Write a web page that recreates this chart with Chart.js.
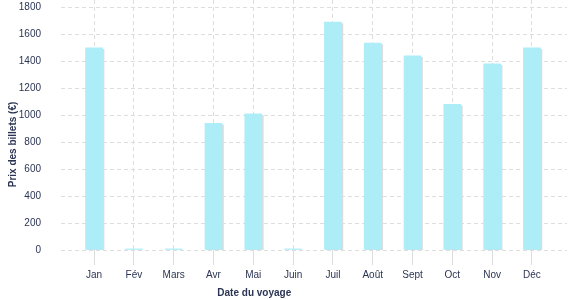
<!DOCTYPE html>
<html>
<head>
<meta charset="utf-8">
<script src="https://cdn.jsdelivr.net/npm/chart.js@4/dist/chart.umd.min.js"></script>
<style>
  html, body { margin: 0; padding: 0; background: #fff; }
  #wrap { width: 577px; height: 300px; position: relative; }
</style>
</head>
<body>
<div id="wrap"><canvas id="c" width="577" height="300"></canvas></div>
<script>
const months = ['Jan', 'Fév', 'Mars', 'Avr', 'Mai', 'Juin', 'Juil', 'Août', 'Sept', 'Oct', 'Nov', 'Déc'];
const prices = [1500, 8, 8, 940, 1010, 8, 1690, 1535, 1440, 1080, 1380, 1500];
const yTickStep = 200;
const xTitle = 'Date du voyage';
const yTitle = 'Prix des billets (€)';

const textColor = '#2b3553';
const gridColor = '#dddddd';
const font = 'Liberation Sans, Arial, Helvetica, sans-serif';

const shadowPlugin = {
  id: 'barShadow',
  beforeDatasetsDraw(chart) {
    const ctx = chart.ctx;
    ctx.save();
    ctx.shadowColor = '#dcdcdc';
    ctx.shadowOffsetX = 1.5;
    ctx.shadowOffsetY = 1.5;
    ctx.shadowBlur = 0;
  },
  afterDatasetsDraw(chart) {
    chart.ctx.restore();
  }
};

const titlesPlugin = {
  id: 'axisTitles',
  afterDraw(chart) {
    const ctx = chart.ctx;
    const a = chart.chartArea;
    ctx.save();
    ctx.fillStyle = textColor;
    ctx.font = 'bold 10px ' + font;
    ctx.textAlign = 'center';
    ctx.textBaseline = 'middle';
    ctx.fillText(xTitle, a.left + (a.right - a.left) * 0.382, a.bottom + 43);
    ctx.translate(a.left - 48, a.top + (a.bottom - a.top) * 0.578);
    ctx.rotate(-Math.PI / 2);
    ctx.fillText(yTitle, 0, 0);
    ctx.restore();
  }
};

const isMonthTick = (c) => c.tick && Number.isInteger(c.tick.value) && c.tick.value >= 0 && c.tick.value < months.length;

new Chart(document.getElementById('c'), {
  type: 'bar',
  data: {
    datasets: [{
      data: prices.map((v, i) => ({ x: i, y: v })),
      backgroundColor: 'rgb(172, 237, 248)',
      borderWidth: 0,
      barThickness: 17
    }]
  },
  options: {
    responsive: false,
    animation: false,
    layout: { padding: { top: 0, right: 10, left: 0, bottom: 0 } },
    plugins: { legend: { display: false }, tooltip: { enabled: false } },
    scales: {
      x: {
        type: 'linear',
        offset: false,
        min: -0.83,
        max: 11.88,
        afterFit(s) { s.height = 50; s.paddingLeft = 0; s.paddingRight = 0; },
        ticks: {
          stepSize: 1,
          includeBounds: false,
          autoSkip: false,
          maxRotation: 0,
          padding: 4,
          color: textColor,
          font: { family: font, size: 10 },
          callback: (v) => months[v] !== undefined ? months[v] : ''
        },
        grid: {
          offset: false,
          color: (c) => isMonthTick(c) ? gridColor : 'rgba(0,0,0,0)',
          tickColor: (c) => isMonthTick(c) ? gridColor : 'rgba(0,0,0,0)',
          tickLength: 15,
          drawTicks: true
        },
        border: { display: false, dash: [4, 3] }
      },
      y: {
        min: 0,
        max: 1854,
        afterFit(s) { s.width = 61; s.paddingTop = 0; s.paddingBottom = 0; },
        ticks: {
          stepSize: yTickStep,
          includeBounds: false,
          padding: 20,
          color: textColor,
          font: { family: font, size: 10 },
          callback: (v) => String(v)
        },
        grid: { color: gridColor, drawTicks: false },
        border: { display: false, dash: [4, 3] }
      }
    }
  },
  plugins: [shadowPlugin, titlesPlugin]
});
</script>
</body>
</html>
